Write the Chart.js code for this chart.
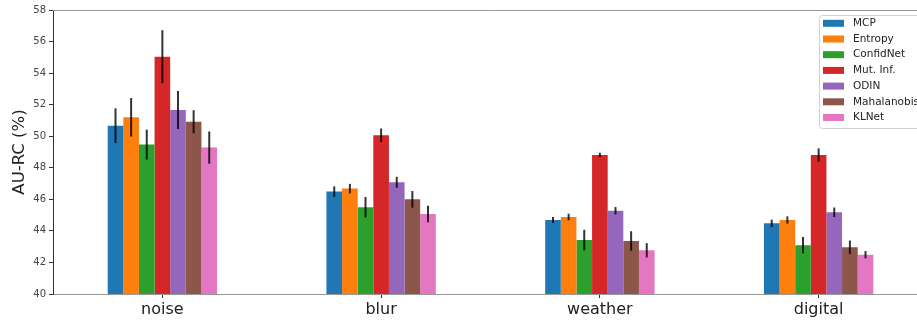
<!DOCTYPE html>
<html>
<head>
<meta charset="utf-8">
<script src="https://cdn.jsdelivr.net/npm/chart.js@4.4.0/dist/chart.umd.min.js"></script>
<style>
  html, body { margin: 0; padding: 0; background: #fff; overflow: hidden; }
  #wrap { width: 928px; height: 321px; }
</style>
</head>
<body>
<div id="wrap"><canvas id="c" width="928" height="321"></canvas></div>
<script>
const categories = ['noise', 'blur', 'weather', 'digital'];
const methods = ['MCP', 'Entropy', 'ConfidNet', 'Mut. Inf.', 'ODIN', 'Mahalanobis', 'KLNet'];
const colors = ['#1f77b4', '#ff7f0e', '#2ca02c', '#d62728', '#9467bd', '#8c564b', '#e377c2'];

const mcp        = [50.67, 46.49, 44.69, 44.48];
const entropy    = [51.20, 46.68, 44.88, 44.69];
const confidnet  = [49.47, 45.50, 43.42, 43.09];
const mutinf     = [55.04, 50.06, 48.81, 48.81];
const odin       = [51.66, 47.08, 45.28, 45.18];
const mahalanobis= [50.92, 46.00, 43.36, 42.96];
const klnet      = [49.28, 45.07, 42.77, 42.49];

const mcpErr        = [1.10, 0.33, 0.19, 0.23];
const entropyErr    = [1.22, 0.30, 0.21, 0.23];
const confidnetErr  = [0.95, 0.65, 0.65, 0.53];
const mutinfErr     = [1.68, 0.43, 0.14, 0.42];
const odinErr       = [1.20, 0.35, 0.23, 0.30];
const mahalanobisErr= [0.73, 0.53, 0.62, 0.43];
const klnetErr      = [1.02, 0.53, 0.45, 0.23];

const yTicks = [40, 42, 44, 46, 48, 50, 52, 54, 56, 58];

const values = [mcp, entropy, confidnet, mutinf, odin, mahalanobis, klnet];
const errors = [mcpErr, entropyErr, confidnetErr, mutinfErr, odinErr, mahalanobisErr, klnetErr];

const datasets = methods.map((m, i) => ({
  label: m,
  data: values[i],
  errors: errors[i],
  backgroundColor: colors[i],
  borderWidth: 0,
  barPercentage: 1.0,
  categoryPercentage: 0.5
}));

const errorBars = {
  id: 'errorBars',
  afterDatasetsDraw(chart) {
    const ctx = chart.ctx;
    const y = chart.scales.y;
    ctx.save();
    ctx.strokeStyle = 'rgba(0,0,0,0.8)';
    ctx.lineWidth = 2;
    chart.data.datasets.forEach((ds, di) => {
      const meta = chart.getDatasetMeta(di);
      meta.data.forEach((bar, j) => {
        const v = ds.data[j], e = ds.errors[j];
        ctx.beginPath();
        ctx.moveTo(bar.x, y.getPixelForValue(v - e));
        ctx.lineTo(bar.x, y.getPixelForValue(v + e));
        ctx.stroke();
      });
    });
    ctx.restore();
  }
};

const frame = {
  id: 'frame',
  afterDraw(chart) {
    const ctx = chart.ctx;
    const a = chart.chartArea;
    ctx.save();
    ctx.strokeStyle = '#999';
    ctx.lineWidth = 1;
    ctx.beginPath();
    ctx.moveTo(a.left, a.top + 0.5);
    ctx.lineTo(a.right, a.top + 0.5);
    ctx.stroke();
    ctx.restore();
  }
};

const boxLegend = {
  id: 'boxLegend',
  afterDraw(chart) {
    const ctx = chart.ctx;
    const x0 = 819.5, y0 = 15.5, w = 120, h = 113;
    ctx.save();
    ctx.fillStyle = 'rgba(255,255,255,0.8)';
    ctx.strokeStyle = '#d0d0d0';
    ctx.lineWidth = 1;
    ctx.beginPath();
    if (ctx.roundRect) ctx.roundRect(x0, y0, w, h, 3); else ctx.rect(x0, y0, w, h);
    ctx.fill();
    ctx.stroke();
    ctx.font = '10.5px "DejaVu Sans"';
    ctx.textBaseline = 'middle';
    chart.data.datasets.forEach((ds, i) => {
      const cy = 23.3 + i * 15.7;
      ctx.fillStyle = ds.backgroundColor;
      ctx.fillRect(823, cy - 3.5, 21, 7);
      ctx.fillStyle = '#222';
      ctx.fillText(ds.label, 853, cy);
    });
    ctx.restore();
  }
};

new Chart(document.getElementById('c'), {
  type: 'bar',
  data: { labels: categories, datasets },
  options: {
    responsive: false,
    animation: false,
    devicePixelRatio: 1,
    layout: { padding: { top: 10, right: 0, left: 0, bottom: 0 } },
    plugins: { legend: { display: false }, tooltip: { enabled: false } },
    scales: {
      x: {
        offset: true,
        grid: { offset: false, drawOnChartArea: false, drawTicks: true, tickLength: 4, color: '#333' },
        border: { display: true, color: '#999', width: 1 },
        ticks: { color: '#222', font: { family: 'DejaVu Sans', size: 16 }, padding: 2 },
        afterFit(s) { s.height = 27; }
      },
      y: {
        min: 40, max: 58,
        afterBuildTicks(s) { s.ticks = yTicks.map(v => ({ value: v })); },
        grid: { drawOnChartArea: false, drawTicks: true, tickLength: 4, color: '#333' },
        border: { display: true, color: '#333', width: 1 },
        ticks: { color: '#444', font: { family: 'DejaVu Sans', size: 10 }, padding: 3 },
        title: { display: true, text: 'AU-RC (%)', color: '#222', font: { family: 'DejaVu Sans', size: 16.5 }, padding: { top: 10, bottom: 0 } },
        afterFit(s) { s.width = 53; }
      }
    }
  },
  plugins: [errorBars, frame, boxLegend]
});
</script>
</body>
</html>
